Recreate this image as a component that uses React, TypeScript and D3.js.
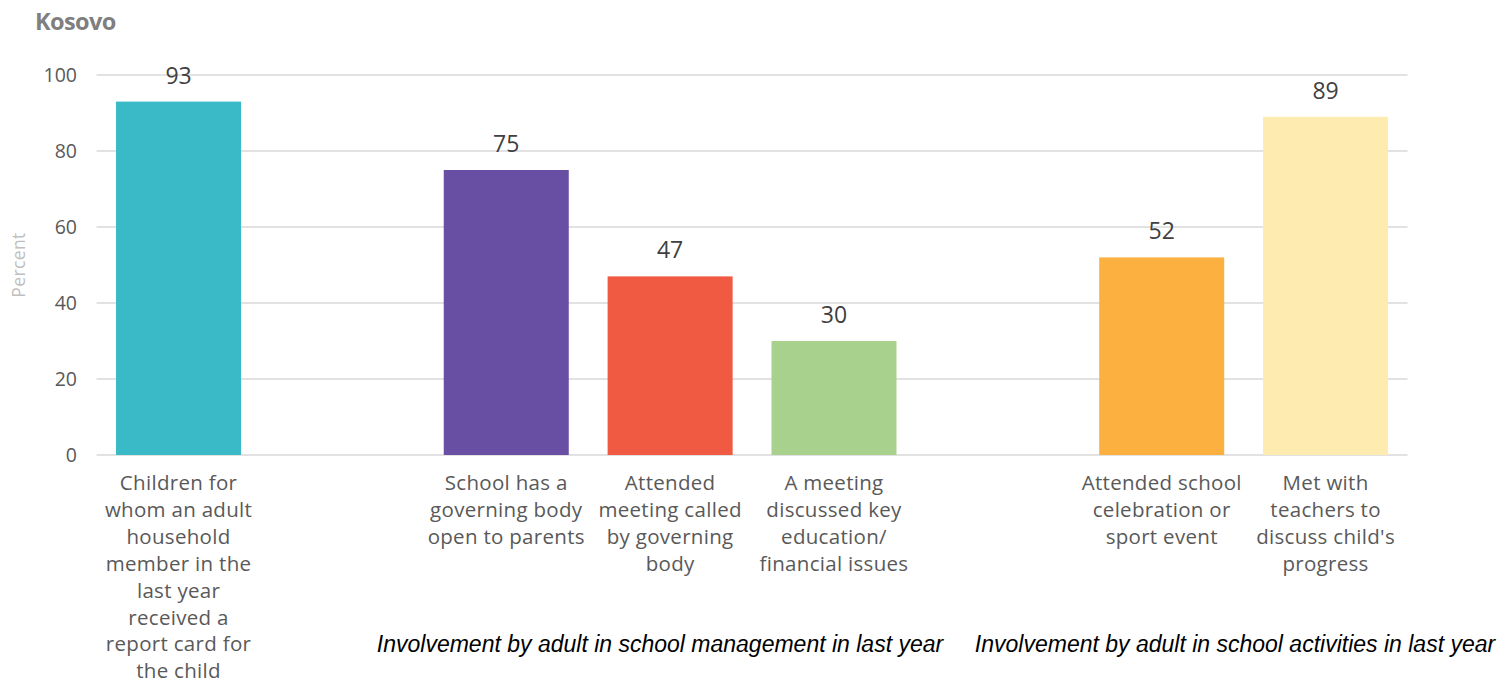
import React from "react";
import * as d3 from "d3";

const slots = ["c0", "gap1", "c1", "c2", "c3", "gap2", "c4", "c5"];
const categories = ["c0", "c1", "c2", "c3", "c4", "c5"];
const values = [93, 75, 47, 30, 52, 89];
const colors = ["#3ABAC7", "#684FA3", "#F15A42", "#A9D18E", "#FBB040", "#FEEBB0"];
const labelLines = [
  ["Children for", "whom an adult", "household", "member in the", "last year", "received a", "report card for", "the child"],
  ["School has a", "governing body", "open to parents"],
  ["Attended", "meeting called", "by governing", "body"],
  ["A meeting", "discussed key", "education/", "financial issues"],
  ["Attended school", "celebration or", "sport event"],
  ["Met with", "teachers to", "discuss child's", "progress"],
];
const yTicks = [0, 20, 40, 60, 80, 100];
const groups = [
  { text: "Involvement by adult in school management in last year", cx: 660 },
  { text: "Involvement by adult in school activities in last year", cx: 1235 },
];

const W = 1510, H = 684;
const FONT = "'Open Sans', 'Liberation Sans', sans-serif";

export default function App() {
  const x = d3.scaleBand<string>().domain(slots).range([96.6, 1407.5]).paddingInner(0.237).paddingOuter(0.1185);
  const y = d3.scaleLinear().domain([0, 100]).range([455, 75]);
  const bw = x.bandwidth();
  const cx = (k: string) => (x(k) as number) + bw / 2;
  return (
    <svg width={W} height={H} style={{ position: "absolute", left: 0, top: 0, background: "#fff" }} fontFamily={FONT}>
      <text x={35} y={30} fontSize={23.5} fontWeight={700} fill="#7f7f7f" letterSpacing={-0.6}>Kosovo</text>
      {yTicks.map((t) => (
        <g key={t}>
          <line x1={96.6} x2={1407.5} y1={y(t)} y2={y(t)} stroke="#d9d9d9" strokeWidth={1.3} />
          <text x={77} y={y(t)} dy="0.35em" textAnchor="end" fontSize={19.5} fill="#595959">{t}</text>
        </g>
      ))}
      <text transform={`translate(25,${y(50)}) rotate(-90)`} textAnchor="middle" fontSize={17.5} letterSpacing={0.4} fill="#bfbfbf">Percent</text>
      {categories.map((c, i) => (
        <g key={c}>
          <rect x={x(c)} y={y(values[i])} width={bw} height={y(0) - y(values[i])} fill={colors[i]} />
          <text x={cx(c)} y={y(values[i]) - 18} textAnchor="middle" fontSize={23} fill="#404040">{values[i]}</text>
          {labelLines[i].map((l, j) => (
            <text key={j} x={cx(c)} y={490 + j * 26.9} textAnchor="middle" fontSize={20.5} letterSpacing={0.3} fill="#595959">{l}</text>
          ))}
        </g>
      ))}
      {groups.map((g, i) => (
        <text key={i} x={g.cx} y={652} textAnchor="middle" fontSize={23} fontStyle="italic" fill="#000" fontFamily="'Liberation Sans', Arial, sans-serif">{g.text}</text>
      ))}
    </svg>
  );
}
